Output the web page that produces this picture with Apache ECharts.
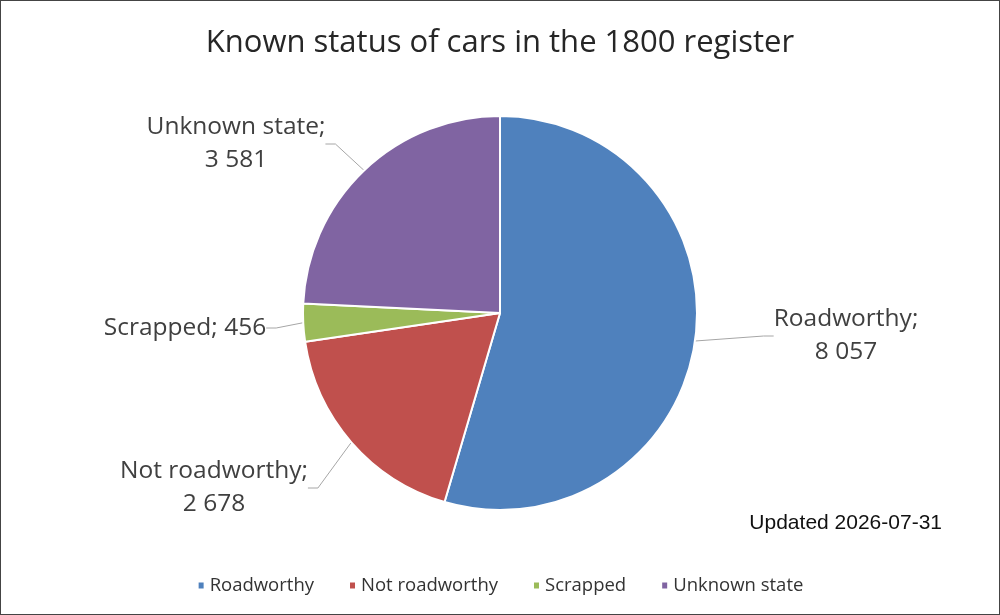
<!DOCTYPE html>
<html>
<head>
    <meta charset="utf-8">
    <title>Known status of cars</title>
    <script src="https://cdn.jsdelivr.net/npm/echarts@6/dist/echarts.min.js"></script>
    <style>
      html, body { margin: 0; padding: 0; background: #fff; }
      #main { width: 998px; height: 613px; border: 1px solid #444; }
    </style>
</head>
<body>
    <div id="main"></div>
    <script type="text/javascript">
        // data
        var categories = ['Roadworthy', 'Not roadworthy', 'Scrapped', 'Unknown state'];
        var counts = [8057, 2678, 456, 3581];
        var colors = ['#4F81BD', '#C0504D', '#9BBB59', '#8064A2'];

        // where each slice label sits (centre of the text block)
        var labelPos = [[845, 335], [213, 487], [184, 327], [235, 143]];

        // 8057 -> "8 057"
        function fmt(n) {
          return String(n).replace(/\B(?=(\d{3})+(?!\d))/g, ' ');
        }

        var myChart = echarts.init(document.getElementById('main'));
        var font = '"Open Sans", "Noto Sans", sans-serif';

        var option = {
          color: colors,
          textStyle: { fontFamily: font },
          title: {
            text: 'Known status of cars in the 1800 register',
            left: 'center',
            top: 22,
            textStyle: { fontFamily: font, fontSize: 31, fontWeight: 'normal', color: '#262626' }
          },
          legend: {
            data: categories,
            bottom: 14,
            left: 'center',
            icon: 'rect',
            itemWidth: 7,
            itemHeight: 8,
            itemGap: 34,
            textStyle: { fontFamily: font, fontSize: 18.5, color: '#333' }
          },
          graphic: [{
            type: 'text',
            right: 57,
            top: 512,
            style: { text: 'Updated 2026-07-31', font: '21px "Liberation Sans", Arial, sans-serif', fill: '#111' }
          }],
          series: [{
            type: 'pie',
            center: [499, 312],
            radius: 197,
            startAngle: 90,
            clockwise: true,
            avoidLabelOverlap: false,
            itemStyle: { borderColor: '#fff', borderWidth: 2 },
            label: {
              show: true,
              position: 'outside',
              fontSize: 24.5,
              color: '#404040',
              lineHeight: 33,
              formatter: function (p) {
                if (p.name === 'Scrapped') return p.name + '; ' + fmt(p.value);
                return p.name + ';\n' + fmt(p.value);
              }
            },
            labelLine: {
              show: true,
              length: 22,
              length2: 10,
              lineStyle: { color: '#a6a6a6', width: 1 }
            },
            labelLayout: function (p) {
              var pos = labelPos[p.dataIndex];
              return { x: pos[0], y: pos[1], align: 'center', verticalAlign: 'middle' };
            },
            data: categories.map(function (c, i) { return { name: c, value: counts[i] }; })
          }]
        };
        myChart.setOption(option);
    </script>
</body>
</html>
